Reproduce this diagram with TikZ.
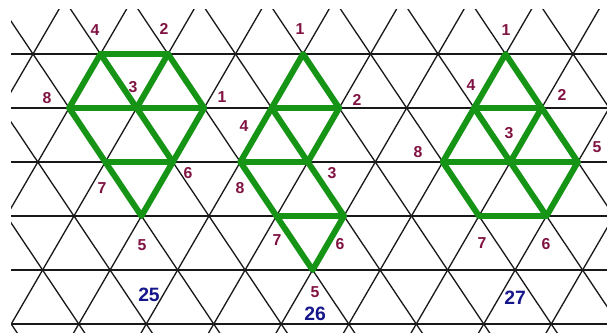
\documentclass[tikz,border=0pt]{standalone}
\usepackage{fontspec}
\setmainfont{Liberation Sans}
\usepackage{tikz}
\definecolor{verde}{RGB}{22,148,22}
\definecolor{granate}{RGB}{128,18,66}
\definecolor{azul}{RGB}{22,22,140}

\begin{document}
\begin{tikzpicture}[x=0.02cm,y=-0.02cm]
\tikzset{malla/.style={black!90,line width=0.75pt},
  arista/.style={verde,line width=3.4pt,line cap=round,line join=round},
  num/.style={text=granate,inner sep=0pt,font=\bfseries\fontsize{9}{9}\selectfont},
  fig/.style={text=azul,inner sep=0pt,font=\bfseries\fontsize{11}{11}\selectfont}}
\useasboundingbox (0,0) rectangle (607,333);

% Red triangular
\begin{scope}
\clip (11,10) rectangle (607,333);
\foreach \r in {0,...,5}
  \draw[malla] (11,{54+54*\r}) -- (607,{54+54*\r});
\foreach \i in {-4,...,10}
  \draw[malla] ({33+67.5*\i-36.15},0) -- ({33+67.5*\i+216.9},378);
\foreach \k in {-2,...,13}
  \draw[malla] ({33+67.5*\k+31.35},0) -- ({33+67.5*\k-188.1},378);
\end{scope}

% Figura 25
\coordinate (a4) at (100.5,54);
\coordinate (a2) at (168,54);
\coordinate (a8) at (69.15,108);
\coordinate (a3) at (136.65,108);
\coordinate (a1) at (204.15,108);
\coordinate (a7) at (105.3,162);
\coordinate (a6) at (172.8,162);
\coordinate (a5) at (141.45,216);
% Figura 26
\coordinate (b1) at (303,54);
\coordinate (b4) at (271.65,108);
\coordinate (b2) at (339.15,108);
\coordinate (b8) at (240.3,162);
\coordinate (b3) at (307.8,162);
\coordinate (b7) at (276.45,216);
\coordinate (b6) at (343.95,216);
\coordinate (b5) at (312.6,270);
% Figura 27
\coordinate (c1) at (505.5,54);
\coordinate (c4) at (474.15,108);
\coordinate (c2) at (541.65,108);
\coordinate (c8) at (442.8,162);
\coordinate (c3) at (510.3,162);
\coordinate (c5) at (577.8,162);
\coordinate (c7) at (478.95,216);
\coordinate (c6) at (546.45,216);

% Aristas verdes
\draw[arista] (a4) -- (a2) -- (a1) -- (a6) -- (a5) -- (a7) -- (a8) -- cycle;
\draw[arista] (a8) -- (a1);
\draw[arista] (a4) -- (a3) -- (a6);
\draw[arista] (a2) -- (a3);
\draw[arista] (a7) -- (a6);

\draw[arista] (b1) -- (b2) -- (b3) -- (b6) -- (b5) -- (b7) -- (b8) -- (b4) -- cycle;
\draw[arista] (b4) -- (b2);
\draw[arista] (b4) -- (b3);
\draw[arista] (b8) -- (b3);
\draw[arista] (b7) -- (b6);

\draw[arista] (c1) -- (c2) -- (c5) -- (c6) -- (c7) -- (c8) -- (c4) -- cycle;
\draw[arista] (c4) -- (c2);
\draw[arista] (c4) -- (c3) -- (c6);
\draw[arista] (c2) -- (c3);
\draw[arista] (c8) -- (c5);

% Etiquetas
\node[num] (la4) at (95,30) {4};
\node[num] (la2) at (164,29) {2};
\node[num] (la8) at (47,98) {8};
\node[num] (la3) at (133,87) {3};
\node[num] (la1) at (222,97) {1};
\node[num] (la6) at (188,173) {6};
\node[num] (la7) at (102,188) {7};
\node[num] (la5) at (142,245) {5};
\node[fig] (n25) at (149,295) {25};

\node[num] (lb1) at (300,29) {1};
\node[num] (lb2) at (357,100) {2};
\node[num] (lb4) at (244,126) {4};
\node[num] (lb8) at (240,188) {8};
\node[num] (lb3) at (332,173) {3};
\node[num] (lb7) at (277,240) {7};
\node[num] (lb6) at (340,244) {6};
\node[num] (lb5) at (315,292) {5};
\node[fig] (n26) at (315,314) {26};

\node[num] (lc1) at (506,30) {1};
\node[num] (lc4) at (471,85) {4};
\node[num] (lc2) at (562,95) {2};
\node[num] (lc3) at (509,133) {3};
\node[num] (lc8) at (418,152) {8};
\node[num] (lc5) at (597,147) {5};
\node[num] (lc7) at (482,243) {7};
\node[num] (lc6) at (546,244) {6};
\node[fig] (n27) at (515,298) {27};

\end{tikzpicture}
\end{document}
